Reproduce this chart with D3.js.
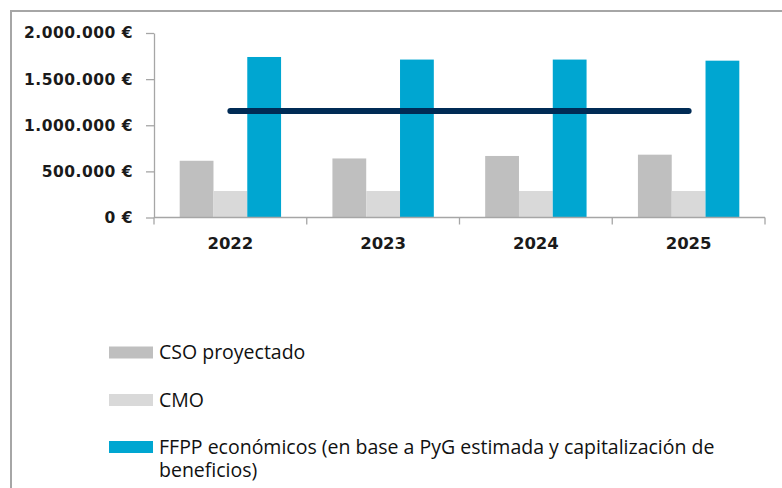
<!DOCTYPE html>
<html>
<head>
<meta charset="utf-8">
<script src="https://cdn.jsdelivr.net/npm/d3@7"></script>
<style>
  body { margin: 0; background: #fff; }
  svg { display: block; }
</style>
</head>
<body>
<div id="chart"></div>
<script>
// chart values
const years = ["2022", "2023", "2024", "2025"];
const seriesNames = ["CSO proyectado", "CMO", "FFPP económicos (en base a PyG estimada y capitalización de beneficios)"];
const csoProyectado = [615000, 640000, 667000, 681000];
const cmo = [287000, 287000, 287000, 287000];
const ffppEconomicos = [1740000, 1712000, 1712000, 1700000];
const lineValues = [1155000, 1155000, 1155000, 1155000];
const yTicks = [0, 500000, 1000000, 1500000, 2000000];
const legendLines = [
    ["CSO proyectado"],
    ["CMO"],
    ["FFPP económicos (en base a PyG estimada y capitalización de", "beneficios)"]
];

const colors = ["#bfbfbf", "#d9d9d9", "#00a6d1"];
const lineColor = "#002b55";
const axisColor = "#a6a6a6";

const width = 782, height = 488;
const plot = { left: 154, right: 765, top: 33, bottom: 217.5 };

const svg = d3.select("#chart")
    .append("svg")
    .attr("width", width)
    .attr("height", height);

// outer frame, runs off the right and bottom edge like the screenshot
svg.append("rect")
    .attr("x", 11)
    .attr("y", 11)
    .attr("width", width)
    .attr("height", height)
    .attr("fill", "none")
    .attr("stroke", axisColor)
    .attr("stroke-width", 2);

const x = d3.scaleBand()
    .domain(years)
    .range([plot.left, plot.right])
    .paddingInner(0)
    .paddingOuter(0);

const xInner = d3.scaleBand()
    .domain(d3.range(seriesNames.length))
    .range([0, x.bandwidth()])
    .paddingInner(0)
    .paddingOuter(0.76);

const y = d3.scaleLinear()
    .domain([0, 2000000])
    .range([plot.bottom, plot.top]);

const locale = d3.formatLocale({ decimal: ",", thousands: ".", grouping: [3], currency: ["", " €"] });
const fmt = locale.format(",.0f");

// bars
const seriesValues = [csoProyectado, cmo, ffppEconomicos];
const bars = svg.append("g").attr("class", "bars");
seriesValues.forEach((values, s) => {
    bars.selectAll(null)
        .data(values.map((v, i) => ({ year: years[i], value: v })))
        .enter().append("rect")
        .attr("x", d => x(d.year) + xInner(s))
        .attr("y", d => y(d.value))
        .attr("width", xInner.bandwidth())
        .attr("height", d => y(0) - y(d.value))
        .attr("fill", colors[s]);
});

// y axis
const yAxis = svg.append("g")
    .attr("transform", `translate(${plot.left},0)`)
    .call(d3.axisLeft(y).tickValues(yTicks).tickSize(8).tickSizeOuter(0).tickPadding(13)
        .tickFormat(d => fmt(d) + " €"));
yAxis.select(".domain").attr("stroke", axisColor).attr("stroke-width", 1.3);
yAxis.selectAll(".tick line").attr("stroke", axisColor).attr("stroke-width", 1.3);
yAxis.selectAll(".tick text")
    .attr("fill", "#1a1a1a")
    .style("font-family", "'DejaVu Sans', Verdana, sans-serif")
    .style("font-weight", "bold")
    .style("font-size", "15.5px")
    .style("letter-spacing", "0.5px");

// x axis: ticks sit on the category boundaries
const xAxis = svg.append("g")
    .attr("transform", `translate(0,${plot.bottom})`);
xAxis.append("line")
    .attr("x1", plot.left).attr("x2", plot.right)
    .attr("stroke", axisColor).attr("stroke-width", 1.3);
xAxis.selectAll("line.tick")
    .data(years.concat(["end"]))
    .enter().append("line")
    .attr("class", "tick")
    .attr("x1", d => d === "end" ? plot.right : x(d))
    .attr("x2", d => d === "end" ? plot.right : x(d))
    .attr("y1", 0).attr("y2", 7)
    .attr("stroke", axisColor).attr("stroke-width", 1.3);
xAxis.selectAll("text")
    .data(years)
    .enter().append("text")
    .attr("x", d => x(d) + x.bandwidth() / 2)
    .attr("y", 25.5)
    .attr("dy", "0.36em")
    .attr("text-anchor", "middle")
    .attr("fill", "#1a1a1a")
    .style("font-family", "'DejaVu Sans', Verdana, sans-serif")
    .style("font-weight", "bold")
    .style("font-size", "16.5px")
    .text(d => d);

// horizontal line series
const line = d3.line()
    .x((d, i) => x(years[i]) + x.bandwidth() / 2)
    .y(d => y(d));
svg.append("path")
    .datum(lineValues)
    .attr("d", line)
    .attr("fill", "none")
    .attr("stroke", lineColor)
    .attr("stroke-width", 6)
    .attr("stroke-linecap", "round");

// legend
const legend = svg.append("g").attr("class", "legend");
const legendY = [352.5, 400, 447];
legendLines.forEach((lines, i) => {
    const g = legend.append("g").attr("transform", `translate(109,${legendY[i]})`);
    g.append("rect")
        .attr("x", 0).attr("y", -6)
        .attr("width", 44).attr("height", 12)
        .attr("fill", colors[i]);
    const t = g.append("text")
        .attr("x", 50)
        .attr("y", 6.5)
        .attr("fill", "#111")
        .style("font-family", "'Open Sans', sans-serif")
        .style("font-size", "19.5px");
    lines.forEach((l, k) => {
        t.append("tspan").attr("x", 50).attr("dy", k === 0 ? 0 : 23).text(l);
    });
});
</script>
</body>
</html>
